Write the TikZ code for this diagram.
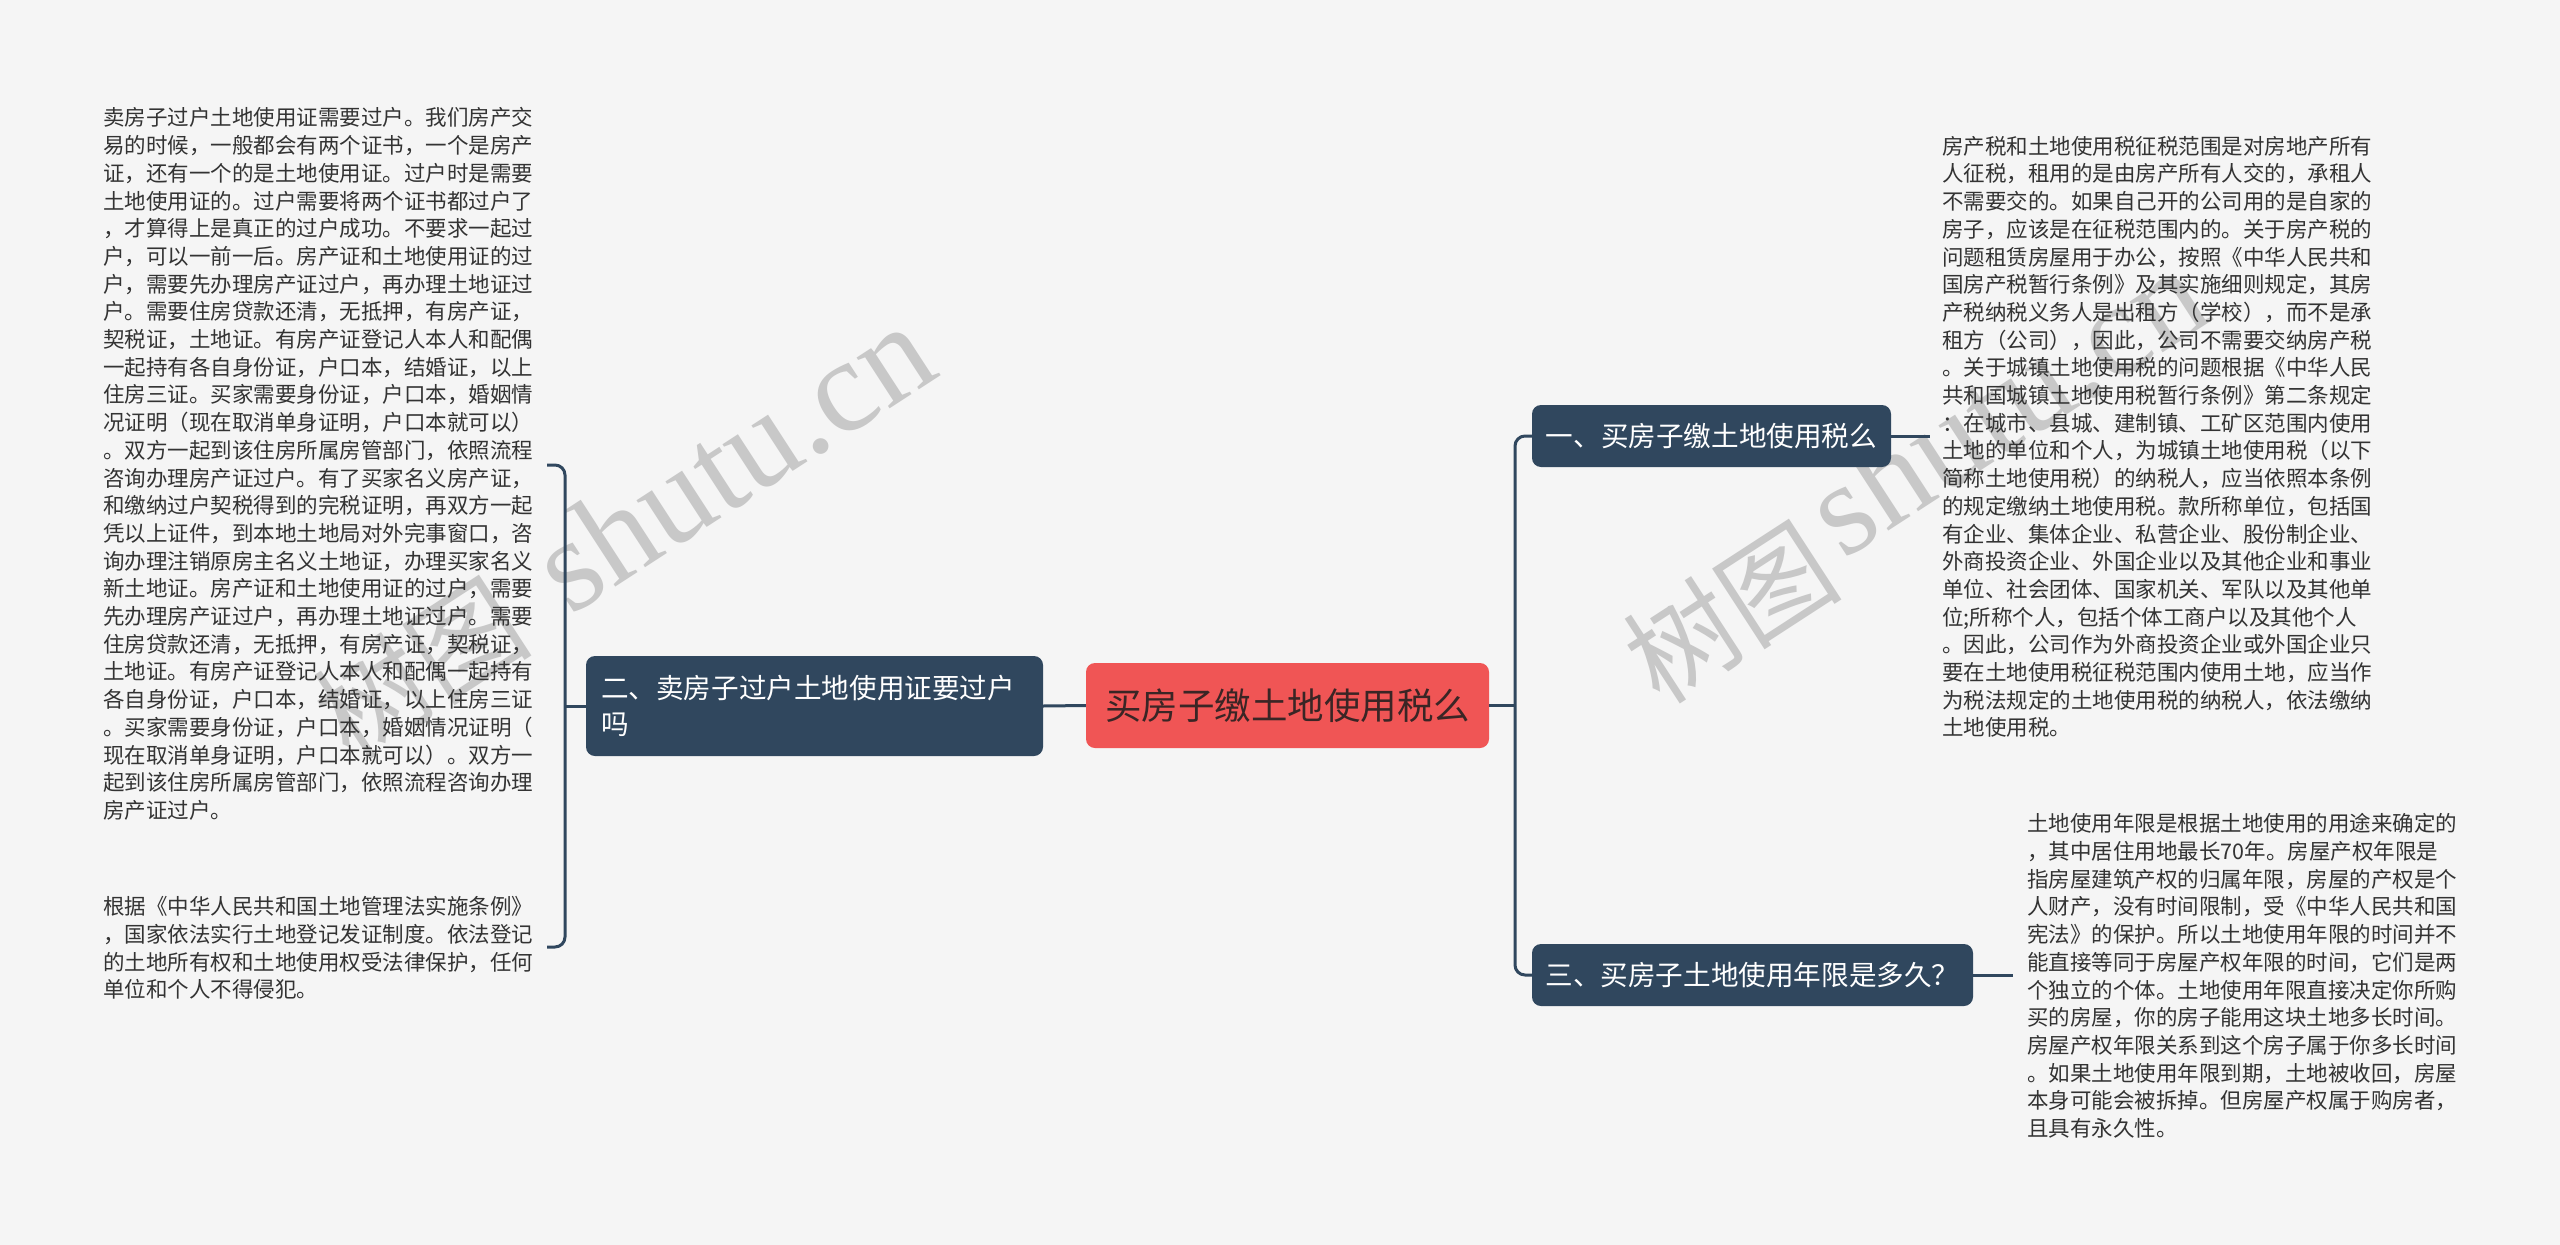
\documentclass[tikz,border=0pt]{standalone}
\usepackage{fontspec}
\newfontfamily\cjk{Noto Sans CJK SC}
\newfontfamily\wmlatin{Liberation Serif}
\definecolor{bg}{HTML}{F5F5F5}
\definecolor{navy}{HTML}{30475E}
\definecolor{coral}{HTML}{F05555}
\definecolor{txt}{HTML}{333333}
\definecolor{ctxt}{HTML}{3A2525}
\definecolor{wm}{HTML}{C8C8C8}
\begin{document}
\begin{tikzpicture}[x=1pt,y=-1pt,
  conn/.style={draw=navy,line width=3pt},
  body/.style={font=\cjk\fontsize{21.5}{27.7}\selectfont,text=txt,align=left,inner sep=0pt,anchor=west},
  branch/.style={fill=navy,rounded corners=9pt,text=white,font=\cjk\fontsize{27.6}{36}\selectfont,inner sep=0pt},
  wmark/.style={text=wm,inner sep=0pt,rotate=33}]
\fill[bg] (0,0) rectangle (2560,1245);
\useasboundingbox (0,0) rectangle (2560,1245);
% watermarks
\node[wmark,font=\cjk\fontsize{110}{110}\selectfont] (w1a) at (420,668) {树图};
\node[wmark,font=\wmlatin\fontsize{132}{132}\selectfont] (w1b) at (732,458) {shutu.cn};
\node[wmark,font=\cjk\fontsize{110}{110}\selectfont] (w2a) at (1730,612) {树图};
\node[wmark,font=\wmlatin\fontsize{132}{132}\selectfont] (w2b) at (2005,402) {shutu.cn};
% main nodes
\node[fill=coral,rounded corners=9pt,text=ctxt,font=\cjk\fontsize{36.5}{40}\selectfont,minimum width=403pt,minimum height=85pt,inner sep=0pt] (c) at (1287.5,705.5) {买房子缴土地使用税么};
\node[branch,minimum width=359pt,minimum height=62pt] (b1) at (1711.5,436) {一、买房子缴土地使用税么};
\node[branch,minimum width=441pt,minimum height=62pt] (b3) at (1752.5,975) {三、买房子土地使用年限是多久？};
\node[branch,minimum width=457pt,minimum height=100pt,align=left,text width=427pt] (b2) at (814.5,706) {二、卖房子过户土地使用证要过户\\吗};
% text blocks
\node[body] (t1) at (103,464) {卖房子过户土地使用证需要过户。我们房产交\\易的时候，一般都会有两个证书，一个是房产\\证，还有一个的是土地使用证。过户时是需要\\土地使用证的。过户需要将两个证书都过户了\\，才算得上是真正的过户成功。不要求一起过\\户，可以一前一后。房产证和土地使用证的过\\户，需要先办理房产证过户，再办理土地证过\\户。需要住房贷款还清，无抵押，有房产证，\\契税证，土地证。有房产证登记人本人和配偶\\一起持有各自身份证，户口本，结婚证，以上\\住房三证。买家需要身份证，户口本，婚姻情\\况证明（现在取消单身证明，户口本就可以）\\。双方一起到该住房所属房管部门，依照流程\\咨询办理房产证过户。有了买家名义房产证，\\和缴纳过户契税得到的完税证明，再双方一起\\凭以上证件，到本地土地局对外完事窗口，咨\\询办理注销原房主名义土地证，办理买家名义\\新土地证。房产证和土地使用证的过户，需要\\先办理房产证过户，再办理土地证过户。需要\\住房贷款还清，无抵押，有房产证，契税证，\\土地证。有房产证登记人本人和配偶一起持有\\各自身份证，户口本，结婚证，以上住房三证\\。买家需要身份证，户口本，婚姻情况证明（\\现在取消单身证明，户口本就可以）。双方一\\起到该住房所属房管部门，依照流程咨询办理\\房产证过户。};
\node[body] (t2) at (103,948) {根据《中华人民共和国土地管理法实施条例》\\，国家依法实行土地登记发证制度。依法登记\\的土地所有权和土地使用权受法律保护，任何\\单位和个人不得侵犯。};
\node[body] (t3) at (1942,437) {房产税和土地使用税征税范围是对房地产所有\\人征税，租用的是由房产所有人交的，承租人\\不需要交的。如果自己开的公司用的是自家的\\房子，应该是在征税范围内的。关于房产税的\\问题租赁房屋用于办公，按照《中华人民共和\\国房产税暂行条例》及其实施细则规定，其房\\产税纳税义务人是出租方（学校），而不是承\\租方（公司），因此，公司不需要交纳房产税\\。关于城镇土地使用税的问题根据《中华人民\\共和国城镇土地使用税暂行条例》第二条规定\\：在城市、县城、建制镇、工矿区范围内使用\\土地的单位和个人，为城镇土地使用税（以下\\简称土地使用税）的纳税人，应当依照本条例\\的规定缴纳土地使用税。款所称单位，包括国\\有企业、集体企业、私营企业、股份制企业、\\外商投资企业、外国企业以及其他企业和事业\\单位、社会团体、国家机关、军队以及其他单\\位;所称个人，包括个体工商户以及其他个人\\。因此，公司作为外商投资企业或外国企业只\\要在土地使用税征税范围内使用土地，应当作\\为税法规定的土地使用税的纳税人，依法缴纳\\土地使用税。};
\node[body] (t4) at (2027,976) {土地使用年限是根据土地使用的用途来确定的\\，其中居住用地最长70年。房屋产权年限是\\指房屋建筑产权的归属年限，房屋的产权是个\\人财产，没有时间限制，受《中华人民共和国\\宪法》的保护。所以土地使用年限的时间并不\\能直接等同于房屋产权年限的时间，它们是两\\个独立的个体。土地使用年限直接决定你所购\\买的房屋，你的房子能用这块土地多长时间。\\房屋产权年限关系到这个房子属于你多长时间\\。如果土地使用年限到期，土地被收回，房屋\\本身可能会被拆掉。但房屋产权属于购房者，\\且具有永久性。};
% connectors
\coordinate (rj) at (1515,705.5);
\coordinate (e1) at (1930,436);
\coordinate (e3) at (2013,975);
\coordinate (lj) at (565,706);
\coordinate (s1) at (547,465);
\coordinate (s2) at (547,947);
\draw[conn] (c.east) -- (rj);
\draw[conn,rounded corners=10pt] (b1.west) -- (b1.west -| rj) -- (b3.west -| rj) -- (b3.west);
\draw[conn] (b1.east) -- (e1);
\draw[conn] (b3.east) -- (e3);
\draw[conn] (c.west) -- (b2.east);
\draw[conn] (b2.west) -- (lj);
\draw[conn,rounded corners=10pt] (s1) -- (s1 -| lj) -- (s2 -| lj) -- (s2);
\end{tikzpicture}
\end{document}
